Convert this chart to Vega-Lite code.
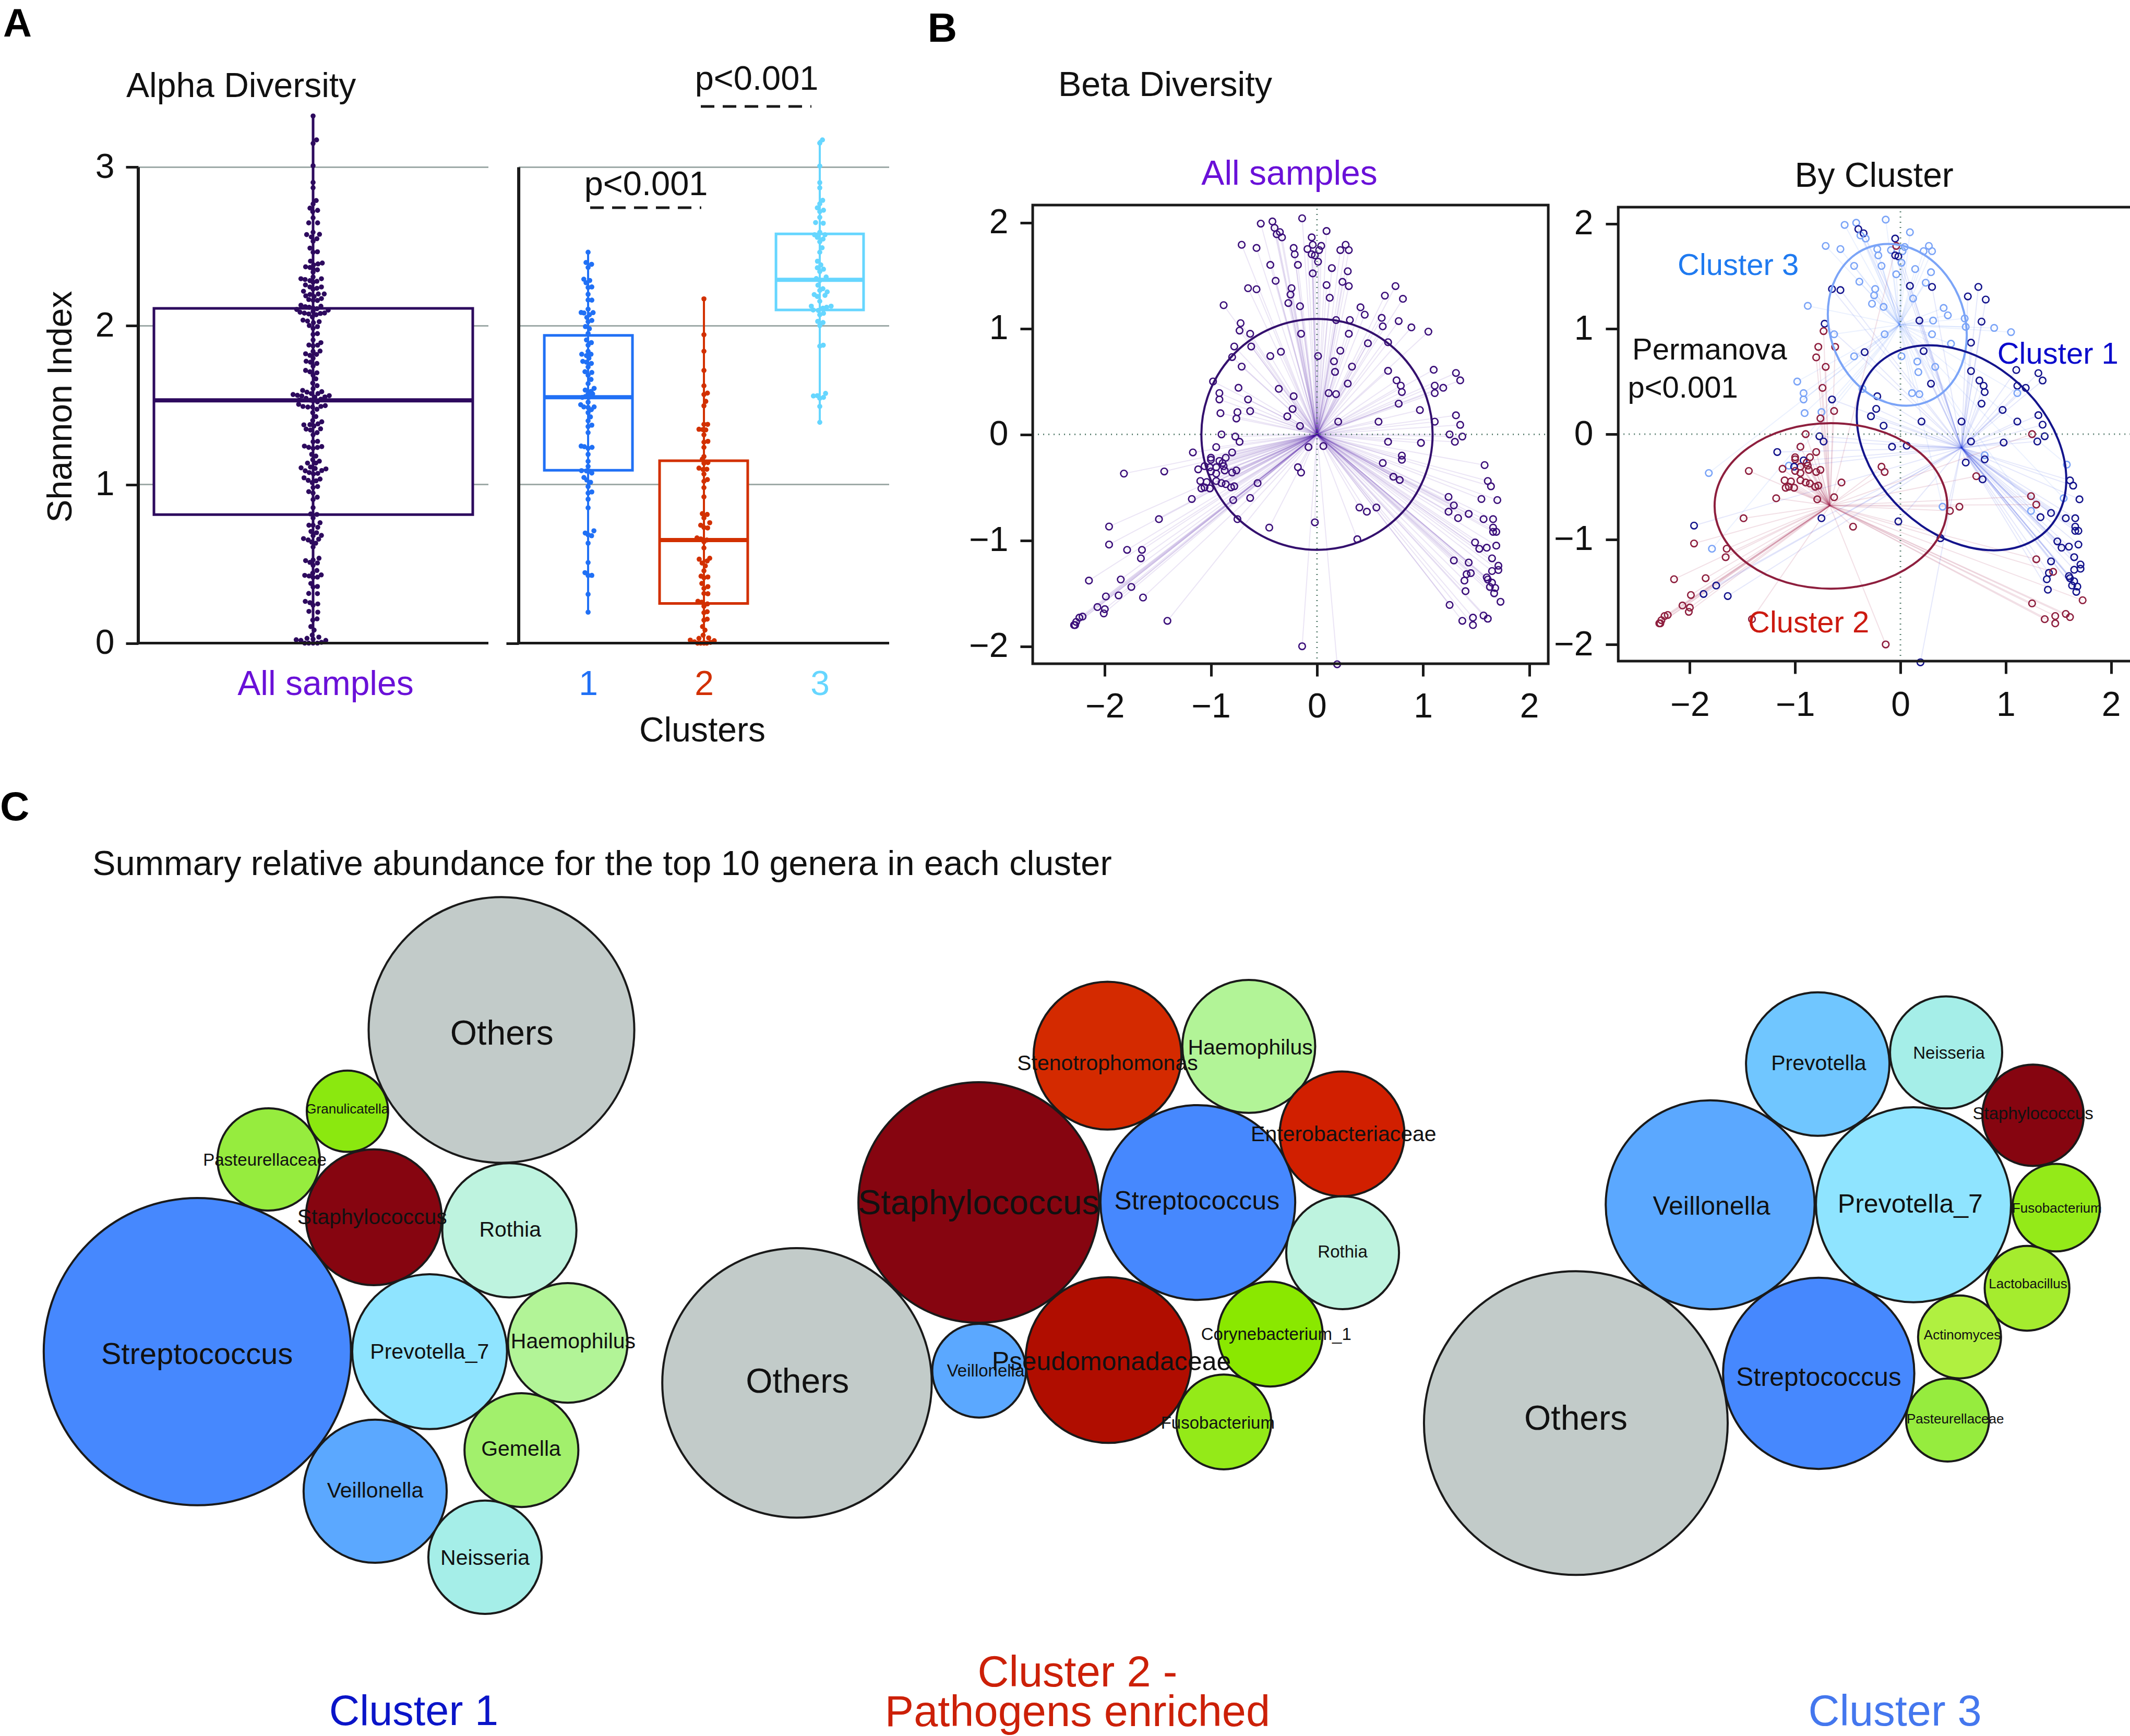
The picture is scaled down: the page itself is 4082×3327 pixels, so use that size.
{"$schema":"https://vega.github.io/schema/vega-lite/v6.json","width":4082,"height":3327,"padding":0,"autosize":"none","background":"white",
"config":{"view":{"stroke":null},"font":"Liberation Sans","text":{"font":"Liberation Sans"},"axis":{"grid":false,"domain":false,"title":null,"labelFont":"Liberation Sans","labelFontSize":66,"labelColor":"#111111","tickColor":"#1a1a1a","tickWidth":5,"tickSize":24,"labelOverlap":false,"labelFlush":false,"format":"d"}},
"datasets":{
"allSwarm":[{"x":0,"y":3.323},{"x":20,"y":3.172},{"x":0,"y":3.15},{"x":0,"y":3.009},{"x":0,"y":2.904},{"x":0,"y":2.87},{"x":18,"y":2.79},{"x":0,"y":2.768},{"x":-18,"y":2.742},{"x":26,"y":2.728},{"x":-2,"y":2.72},{"x":0,"y":2.681},{"x":-25,"y":2.649},{"x":26,"y":2.649},{"x":0,"y":2.59},{"x":-37,"y":2.575},{"x":37,"y":2.577},{"x":-10,"y":2.56},{"x":22,"y":2.549},{"x":0,"y":2.533},{"x":-18,"y":2.49},{"x":25,"y":2.467},{"x":0,"y":2.464},{"x":-15,"y":2.408},{"x":53,"y":2.396},{"x":28,"y":2.39},{"x":3,"y":2.384},{"x":-43,"y":2.372},{"x":-18,"y":2.368},{"x":0,"y":2.36},{"x":25,"y":2.353},{"x":0,"y":2.338},{"x":0,"y":2.308},{"x":-70,"y":2.297},{"x":-46,"y":2.292},{"x":48,"y":2.297},{"x":-18,"y":2.285},{"x":22,"y":2.281},{"x":0,"y":2.275},{"x":-44,"y":2.258},{"x":48,"y":2.245},{"x":-18,"y":2.245},{"x":22,"y":2.237},{"x":0,"y":2.231},{"x":-55,"y":2.218},{"x":64,"y":2.201},{"x":30,"y":2.201},{"x":-18,"y":2.198},{"x":-42,"y":2.189},{"x":6,"y":2.185},{"x":48,"y":2.172},{"x":-25,"y":2.166},{"x":0,"y":2.161},{"x":25,"y":2.16},{"x":-70,"y":2.13},{"x":-45,"y":2.121},{"x":45,"y":2.124},{"x":-22,"y":2.117},{"x":-94,"y":2.103},{"x":0,"y":2.113},{"x":22,"y":2.108},{"x":87,"y":2.099},{"x":0,"y":2.091},{"x":-75,"y":2.086},{"x":-50,"y":2.08},{"x":-25,"y":2.075},{"x":42,"y":2.078},{"x":66,"y":2.081},{"x":18,"y":2.07},{"x":-4,"y":2.056},{"x":-58,"y":2.036},{"x":-32,"y":2.03},{"x":35,"y":2.026},{"x":2,"y":2.02},{"x":-22,"y":2.002},{"x":25,"y":1.995},{"x":0,"y":1.984},{"x":25,"y":1.951},{"x":0,"y":1.946},{"x":0,"y":1.911},{"x":45,"y":1.894},{"x":-24,"y":1.879},{"x":26,"y":1.878},{"x":0,"y":1.874},{"x":40,"y":1.841},{"x":0,"y":1.839},{"x":-43,"y":1.824},{"x":-18,"y":1.814},{"x":20,"y":1.82},{"x":0,"y":1.796},{"x":-40,"y":1.777},{"x":-15,"y":1.771},{"x":22,"y":1.763},{"x":0,"y":1.746},{"x":-43,"y":1.719},{"x":-18,"y":1.71},{"x":22,"y":1.704},{"x":0,"y":1.689},{"x":16,"y":1.666},{"x":-2,"y":1.639},{"x":23,"y":1.623},{"x":0,"y":1.604},{"x":-60,"y":1.593},{"x":-35,"y":1.582},{"x":50,"y":1.585},{"x":28,"y":1.573},{"x":-10,"y":1.573},{"x":-115,"y":1.567},{"x":-90,"y":1.562},{"x":-65,"y":1.558},{"x":93,"y":1.56},{"x":68,"y":1.552},{"x":-40,"y":1.543},{"x":10,"y":1.551},{"x":-80,"y":1.532},{"x":-15,"y":1.532},{"x":45,"y":1.538},{"x":0,"y":1.527},{"x":25,"y":1.521},{"x":-83,"y":1.505},{"x":-58,"y":1.492},{"x":-30,"y":1.488},{"x":-3,"y":1.488},{"x":70,"y":1.497},{"x":45,"y":1.492},{"x":22,"y":1.474},{"x":-2,"y":1.453},{"x":16,"y":1.428},{"x":-2,"y":1.403},{"x":50,"y":1.395},{"x":28,"y":1.382},{"x":-18,"y":1.377},{"x":-53,"y":1.376},{"x":5,"y":1.368},{"x":43,"y":1.351},{"x":-40,"y":1.349},{"x":-15,"y":1.343},{"x":23,"y":1.327},{"x":0,"y":1.313},{"x":0,"y":1.269},{"x":26,"y":1.272},{"x":-50,"y":1.242},{"x":-25,"y":1.234},{"x":0,"y":1.228},{"x":25,"y":1.233},{"x":50,"y":1.239},{"x":-8,"y":1.19},{"x":16,"y":1.179},{"x":-2,"y":1.156},{"x":36,"y":1.147},{"x":-32,"y":1.135},{"x":16,"y":1.135},{"x":-15,"y":1.11},{"x":12,"y":1.101},{"x":-69,"y":1.105},{"x":74,"y":1.098},{"x":50,"y":1.088},{"x":-45,"y":1.086},{"x":-22,"y":1.075},{"x":2,"y":1.066},{"x":27,"y":1.07},{"x":-52,"y":1.042},{"x":40,"y":1.034},{"x":-28,"y":1.026},{"x":17,"y":1.023},{"x":-5,"y":1.012},{"x":26,"y":0.987},{"x":0,"y":0.981},{"x":-25,"y":0.955},{"x":0,"y":0.946},{"x":24,"y":0.92},{"x":0,"y":0.905},{"x":0,"y":0.854},{"x":-14,"y":0.814},{"x":22,"y":0.811},{"x":0,"y":0.789},{"x":40,"y":0.759},{"x":-24,"y":0.743},{"x":27,"y":0.73},{"x":0,"y":0.743},{"x":-12,"y":0.704},{"x":20,"y":0.696},{"x":48,"y":0.679},{"x":0,"y":0.677},{"x":-55,"y":0.659},{"x":32,"y":0.655},{"x":-28,"y":0.65},{"x":15,"y":0.63},{"x":-8,"y":0.637},{"x":0,"y":0.606},{"x":34,"y":0.535},{"x":0,"y":0.524},{"x":-43,"y":0.52},{"x":-18,"y":0.509},{"x":25,"y":0.505},{"x":0,"y":0.491},{"x":22,"y":0.458},{"x":-2,"y":0.441},{"x":47,"y":0.43},{"x":-48,"y":0.427},{"x":-23,"y":0.423},{"x":0,"y":0.414},{"x":25,"y":0.416},{"x":-13,"y":0.376},{"x":0,"y":0.354},{"x":25,"y":0.357},{"x":-25,"y":0.313},{"x":25,"y":0.312},{"x":-45,"y":0.263},{"x":-18,"y":0.255},{"x":27,"y":0.247},{"x":0,"y":0.239},{"x":-24,"y":0.2},{"x":27,"y":0.195},{"x":23,"y":0.153},{"x":-2,"y":0.145},{"x":-13,"y":0.104},{"x":6,"y":0.082},{"x":-5,"y":0.051},{"x":33,"y":0.038},{"x":-35,"y":0.03},{"x":-97,"y":0.021},{"x":73,"y":0.017},{"x":-70,"y":0.017},{"x":0,"y":0.025},{"x":48,"y":0.005},{"x":-25,"y":0},{"x":-48,"y":0},{"x":25,"y":0},{"x":0,"y":0}],
"clusterSwarm":[{"x":1,"y":2.464,"c":1},{"x":0.982,"y":2.399,"c":1},{"x":1.03,"y":2.388,"c":1},{"x":1,"y":2.368,"c":1},{"x":0.963,"y":2.294,"c":1},{"x":1.014,"y":2.286,"c":1},{"x":0.982,"y":2.272,"c":1},{"x":1.032,"y":2.245,"c":1},{"x":1,"y":2.242,"c":1},{"x":1,"y":2.199,"c":1},{"x":1,"y":2.163,"c":1},{"x":1.032,"y":2.162,"c":1},{"x":1,"y":2.105,"c":1},{"x":0.94,"y":2.084,"c":1},{"x":0.964,"y":2.081,"c":1},{"x":1.043,"y":2.083,"c":1},{"x":1.011,"y":2.07,"c":1},{"x":0.989,"y":2.053,"c":1},{"x":1.032,"y":2.034,"c":1},{"x":1,"y":2.026,"c":1},{"x":0.977,"y":1.995,"c":1},{"x":1.011,"y":1.982,"c":1},{"x":1,"y":1.952,"c":1},{"x":0.986,"y":1.911,"c":1},{"x":1.028,"y":1.894,"c":1},{"x":1,"y":1.878,"c":1},{"x":1,"y":1.839,"c":1},{"x":0.945,"y":1.821,"c":1},{"x":1.025,"y":1.821,"c":1},{"x":0.986,"y":1.812,"c":1},{"x":1.007,"y":1.796,"c":1},{"x":0.954,"y":1.776,"c":1},{"x":0.986,"y":1.771,"c":1},{"x":1.028,"y":1.763,"c":1},{"x":1,"y":1.741,"c":1},{"x":0.973,"y":1.711,"c":1},{"x":1.032,"y":1.706,"c":1},{"x":1,"y":1.689,"c":1},{"x":1.025,"y":1.662,"c":1},{"x":1,"y":1.636,"c":1},{"x":1.052,"y":1.606,"c":1},{"x":0.975,"y":1.595,"c":1},{"x":1.025,"y":1.587,"c":1},{"x":1,"y":1.571,"c":1},{"x":1.039,"y":1.571,"c":1},{"x":0.95,"y":1.549,"c":1},{"x":1.007,"y":1.549,"c":1},{"x":0.975,"y":1.554,"c":1},{"x":1.028,"y":1.554,"c":1},{"x":1,"y":1.519,"c":1},{"x":0.936,"y":1.503,"c":1},{"x":0.963,"y":1.489,"c":1},{"x":1.052,"y":1.489,"c":1},{"x":1,"y":1.486,"c":1},{"x":1.028,"y":1.472,"c":1},{"x":1,"y":1.453,"c":1},{"x":1.02,"y":1.426,"c":1},{"x":1,"y":1.401,"c":1},{"x":1.032,"y":1.374,"c":1},{"x":1,"y":1.365,"c":1},{"x":1,"y":1.327,"c":1},{"x":0.94,"y":1.242,"c":1},{"x":0.968,"y":1.238,"c":1},{"x":1.034,"y":1.234,"c":1},{"x":1,"y":1.228,"c":1},{"x":1,"y":1.19,"c":1},{"x":1,"y":1.146,"c":1},{"x":1,"y":1.114,"c":1},{"x":0.943,"y":1.087,"c":1},{"x":0.986,"y":1.085,"c":1},{"x":1.016,"y":1.083,"c":1},{"x":1.032,"y":1.072,"c":1},{"x":0.964,"y":1.044,"c":1},{"x":0.989,"y":1.028,"c":1},{"x":1.021,"y":1.014,"c":1},{"x":1,"y":0.987,"c":1},{"x":1.032,"y":0.953,"c":1},{"x":1,"y":0.946,"c":1},{"x":1,"y":0.907,"c":1},{"x":1,"y":0.853,"c":1},{"x":1.05,"y":0.708,"c":1},{"x":0.975,"y":0.694,"c":1},{"x":1.03,"y":0.677,"c":1},{"x":1,"y":0.683,"c":1},{"x":1,"y":0.63,"c":1},{"x":1,"y":0.508,"c":1},{"x":0.973,"y":0.444,"c":1},{"x":1.032,"y":0.427,"c":1},{"x":1,"y":0.427,"c":1},{"x":1,"y":0.308,"c":1},{"x":1,"y":0.195,"c":1},
{"x":2,"y":2.17,"c":2},{"x":2,"y":1.944,"c":2},{"x":2,"y":1.84,"c":2},{"x":2,"y":1.719,"c":2},{"x":2,"y":1.622,"c":2},{"x":2.03,"y":1.576,"c":2},{"x":2,"y":1.567,"c":2},{"x":2.016,"y":1.524,"c":2},{"x":2,"y":1.496,"c":2},{"x":2.032,"y":1.379,"c":2},{"x":2,"y":1.379,"c":2},{"x":1.957,"y":1.348,"c":2},{"x":2.016,"y":1.344,"c":2},{"x":1.99,"y":1.346,"c":2},{"x":2,"y":1.313,"c":2},{"x":2.034,"y":1.272,"c":2},{"x":2,"y":1.267,"c":2},{"x":2,"y":1.234,"c":2},{"x":2,"y":1.176,"c":2},{"x":1.986,"y":1.16,"c":2},{"x":2.034,"y":1.138,"c":2},{"x":2,"y":1.134,"c":2},{"x":1.957,"y":1.103,"c":2},{"x":2.025,"y":1.096,"c":2},{"x":1.993,"y":1.094,"c":2},{"x":2,"y":1.066,"c":2},{"x":2.03,"y":1.031,"c":2},{"x":2,"y":1.02,"c":2},{"x":2,"y":0.98,"c":2},{"x":2,"y":0.922,"c":2},{"x":1.986,"y":0.816,"c":2},{"x":2.028,"y":0.811,"c":2},{"x":2,"y":0.789,"c":2},{"x":2.05,"y":0.759,"c":2},{"x":1.972,"y":0.743,"c":2},{"x":2.032,"y":0.726,"c":2},{"x":2,"y":0.729,"c":2},{"x":1.94,"y":0.663,"c":2},{"x":1.972,"y":0.657,"c":2},{"x":2.025,"y":0.65,"c":2},{"x":2,"y":0.639,"c":2},{"x":2,"y":0.6,"c":2},{"x":2.05,"y":0.535,"c":2},{"x":1.959,"y":0.529,"c":2},{"x":2.028,"y":0.518,"c":2},{"x":1.984,"y":0.505,"c":2},{"x":2.012,"y":0.487,"c":2},{"x":2,"y":0.456,"c":2},{"x":1.975,"y":0.422,"c":2},{"x":2.034,"y":0.417,"c":2},{"x":2,"y":0.412,"c":2},{"x":1.982,"y":0.376,"c":2},{"x":2.034,"y":0.356,"c":2},{"x":2,"y":0.345,"c":2},{"x":2,"y":0.313,"c":2},{"x":2.034,"y":0.311,"c":2},{"x":1.948,"y":0.264,"c":2},{"x":1.98,"y":0.258,"c":2},{"x":2.03,"y":0.247,"c":2},{"x":2,"y":0.233,"c":2},{"x":2.028,"y":0.198,"c":2},{"x":2,"y":0.192,"c":2},{"x":2.028,"y":0.151,"c":2},{"x":2,"y":0.145,"c":2},{"x":1.988,"y":0.104,"c":2},{"x":2.009,"y":0.082,"c":2},{"x":1.993,"y":0.05,"c":2},{"x":2.041,"y":0.033,"c":2},{"x":1.957,"y":0.03,"c":2},{"x":1.882,"y":0.019,"c":2},{"x":2.089,"y":0.015,"c":2},{"x":1.918,"y":0.008,"c":2},{"x":2.057,"y":0.005,"c":2},{"x":1.945,"y":0,"c":2},{"x":2,"y":0.003,"c":2},{"x":1.972,"y":0,"c":2},{"x":2.025,"y":0,"c":2},{"x":2,"y":0,"c":2},
{"x":3.023,"y":3.172,"c":3},{"x":3,"y":3.152,"c":3},{"x":3,"y":3.007,"c":3},{"x":3,"y":2.903,"c":3},{"x":3,"y":2.87,"c":3},{"x":3.025,"y":2.791,"c":3},{"x":3,"y":2.769,"c":3},{"x":2.979,"y":2.744,"c":3},{"x":3.032,"y":2.729,"c":3},{"x":3,"y":2.72,"c":3},{"x":3,"y":2.684,"c":3},{"x":2.964,"y":2.651,"c":3},{"x":3.03,"y":2.647,"c":3},{"x":3,"y":2.59,"c":3},{"x":2.955,"y":2.574,"c":3},{"x":3.045,"y":2.574,"c":3},{"x":2.979,"y":2.558,"c":3},{"x":3.028,"y":2.547,"c":3},{"x":3,"y":2.53,"c":3},{"x":3.02,"y":2.492,"c":3},{"x":3,"y":2.464,"c":3},{"x":2.98,"y":2.407,"c":3},{"x":3.009,"y":2.384,"c":3},{"x":2.979,"y":2.366,"c":3},{"x":3.032,"y":2.357,"c":3},{"x":3,"y":2.342,"c":3},{"x":2.97,"y":2.298,"c":3},{"x":3.055,"y":2.308,"c":3},{"x":3,"y":2.286,"c":3},{"x":2.984,"y":2.256,"c":3},{"x":3.027,"y":2.234,"c":3},{"x":3,"y":2.223,"c":3},{"x":3.064,"y":2.214,"c":3},{"x":2.952,"y":2.197,"c":3},{"x":3.045,"y":2.192,"c":3},{"x":2.979,"y":2.185,"c":3},{"x":3,"y":2.155,"c":3},{"x":2.927,"y":2.124,"c":3},{"x":3.098,"y":2.124,"c":3},{"x":3.059,"y":2.117,"c":3},{"x":3.027,"y":2.111,"c":3},{"x":2.943,"y":2.1,"c":3},{"x":2.988,"y":2.097,"c":3},{"x":3.032,"y":2.079,"c":3},{"x":3,"y":2.07,"c":3},{"x":2.982,"y":2.028,"c":3},{"x":3.028,"y":2.021,"c":3},{"x":3,"y":2.002,"c":3},{"x":3.03,"y":1.878,"c":3},{"x":3,"y":1.872,"c":3},{"x":3.05,"y":1.574,"c":3},{"x":2.945,"y":1.558,"c":3},{"x":2.979,"y":1.56,"c":3},{"x":3.032,"y":1.549,"c":3},{"x":3,"y":1.543,"c":3},{"x":3,"y":1.492,"c":3},{"x":3,"y":1.392,"c":3}],
"beta":[{"x":-0.14,"y":2.04,"c":3},{"x":-0.42,"y":2.01,"c":3},{"x":-0.53,"y":1.99,"c":3},{"x":-0.4,"y":1.95,"c":1},{"x":-0.38,"y":1.89,"c":3},{"x":-0.35,"y":1.91,"c":1},{"x":-0.33,"y":1.86,"c":3},{"x":0.09,"y":1.92,"c":3},{"x":-0.05,"y":1.86,"c":1},{"x":-0.71,"y":1.79,"c":3},{"x":-0.57,"y":1.76,"c":3},{"x":-0.22,"y":1.76,"c":3},{"x":-0.21,"y":1.7,"c":3},{"x":-0.09,"y":1.75,"c":3},{"x":-0.04,"y":1.79,"c":2},{"x":0.04,"y":1.78,"c":3},{"x":0.02,"y":1.74,"c":3},{"x":-0.05,"y":1.7,"c":1},{"x":-0.02,"y":1.69,"c":1},{"x":0.01,"y":1.63,"c":3},{"x":0.22,"y":1.74,"c":3},{"x":0.27,"y":1.79,"c":3},{"x":0.3,"y":1.74,"c":3},{"x":-0.44,"y":1.6,"c":3},{"x":-0.18,"y":1.6,"c":3},{"x":0.14,"y":1.57,"c":3},{"x":0.29,"y":1.54,"c":3},{"x":-0.04,"y":1.52,"c":3},{"x":-0.39,"y":1.45,"c":3},{"x":0.24,"y":1.44,"c":3},{"x":0.3,"y":1.4,"c":1},{"x":0.09,"y":1.41,"c":1},{"x":-0.65,"y":1.38,"c":1},{"x":-0.57,"y":1.37,"c":1},{"x":-0.24,"y":1.38,"c":3},{"x":-0.25,"y":1.32,"c":3},{"x":0.74,"y":1.4,"c":1},{"x":0.64,"y":1.31,"c":1},{"x":0.81,"y":1.28,"c":1},{"x":0.12,"y":1.29,"c":3},{"x":-0.27,"y":1.24,"c":3},{"x":-0.88,"y":1.22,"c":3},{"x":-0.16,"y":1.21,"c":3},{"x":0.41,"y":1.2,"c":3},{"x":0.45,"y":1.13,"c":3},{"x":0.61,"y":1.1,"c":3},{"x":0.62,"y":1.02,"c":3},{"x":0.77,"y":1.07,"c":1},{"x":0.18,"y":1.08,"c":1},{"x":0.31,"y":1.08,"c":3},{"x":0.89,"y":1.01,"c":3},{"x":1.05,"y":0.97,"c":3},{"x":-0.72,"y":1.05,"c":1},{"x":-0.73,"y":0.98,"c":2},{"x":-0.63,"y":0.95,"c":3},{"x":-0.15,"y":0.95,"c":3},{"x":0.3,"y":0.95,"c":3},{"x":0.67,"y":0.87,"c":1},{"x":0.48,"y":0.86,"c":3},{"x":-0.78,"y":0.83,"c":2},{"x":-0.62,"y":0.83,"c":2},{"x":-0.34,"y":0.78,"c":1},{"x":-0.44,"y":0.74,"c":3},{"x":0.01,"y":0.74,"c":3},{"x":0.22,"y":0.79,"c":1},{"x":-0.8,"y":0.73,"c":2},{"x":0.16,"y":0.69,"c":3},{"x":-0.71,"y":0.64,"c":2},{"x":0.33,"y":0.64,"c":3},{"x":0.17,"y":0.59,"c":3},{"x":0.67,"y":0.6,"c":1},{"x":1.1,"y":0.61,"c":1},{"x":1.31,"y":0.58,"c":1},{"x":1.35,"y":0.51,"c":1},{"x":-0.98,"y":0.5,"c":3},{"x":0.75,"y":0.51,"c":1},{"x":0.29,"y":0.48,"c":1},{"x":0.79,"y":0.46,"c":1},{"x":0.8,"y":0.4,"c":1},{"x":1.11,"y":0.46,"c":1},{"x":1.19,"y":0.44,"c":1},{"x":1.11,"y":0.39,"c":3},{"x":-0.74,"y":0.44,"c":2},{"x":-0.36,"y":0.43,"c":3},{"x":-0.92,"y":0.39,"c":3},{"x":-0.92,"y":0.33,"c":3},{"x":0.11,"y":0.39,"c":3},{"x":0.18,"y":0.38,"c":3},{"x":-0.22,"y":0.36,"c":1},{"x":-0.65,"y":0.33,"c":1},{"x":0.77,"y":0.29,"c":1},{"x":-0.23,"y":0.24,"c":1},{"x":-0.75,"y":0.21,"c":3},{"x":-0.63,"y":0.22,"c":2},{"x":-0.91,"y":0.2,"c":3},{"x":0.97,"y":0.23,"c":1},{"x":-0.76,"y":0.15,"c":2},{"x":-0.28,"y":0.17,"c":1},{"x":1.31,"y":0.18,"c":1},{"x":0.2,"y":0.12,"c":1},{"x":0.58,"y":0.12,"c":1},{"x":1.11,"y":0.12,"c":1},{"x":1.35,"y":0.09,"c":1},{"x":-0.16,"y":0.08,"c":1},{"x":-0.9,"y":0,"c":2},{"x":1.25,"y":0,"c":2},{"x":1.37,"y":-0.02,"c":1},{"x":-0.77,"y":-0.02,"c":1},{"x":-0.73,"y":-0.07,"c":1},{"x":0.67,"y":-0.07,"c":1},{"x":0.98,"y":-0.08,"c":1},{"x":1.3,"y":-0.07,"c":1},{"x":-0.08,"y":-0.12,"c":1},{"x":0.06,"y":-0.11,"c":1},{"x":-0.95,"y":-0.12,"c":2},{"x":-1.17,"y":-0.17,"c":1},{"x":-0.8,"y":-0.17,"c":2},{"x":-0.86,"y":-0.22,"c":2},{"x":-1,"y":-0.22,"c":2},{"x":-1,"y":-0.24,"c":2},{"x":-0.92,"y":-0.25,"c":1},{"x":-0.89,"y":-0.27,"c":2},{"x":-1.06,"y":-0.3,"c":3},{"x":-0.95,"y":-0.31,"c":2},{"x":-0.88,"y":-0.3,"c":2},{"x":-1.01,"y":-0.31,"c":1},{"x":-1.12,"y":-0.33,"c":2},{"x":-1,"y":-0.35,"c":2},{"x":-0.87,"y":-0.34,"c":2},{"x":-0.8,"y":-0.36,"c":2},{"x":-0.76,"y":-0.34,"c":2},{"x":-0.95,"y":-0.37,"c":2},{"x":-1.44,"y":-0.35,"c":2},{"x":-1.82,"y":-0.37,"c":3},{"x":0.8,"y":-0.2,"c":3},{"x":0.8,"y":-0.24,"c":1},{"x":0.62,"y":-0.27,"c":1},{"x":1.58,"y":-0.29,"c":3},{"x":-0.18,"y":-0.31,"c":2},{"x":-0.15,"y":-0.36,"c":2},{"x":0.72,"y":-0.4,"c":2},{"x":0.78,"y":-0.43,"c":1},{"x":1.61,"y":-0.44,"c":1},{"x":1.64,"y":-0.49,"c":1},{"x":-1.1,"y":-0.44,"c":2},{"x":-1.04,"y":-0.45,"c":2},{"x":-0.95,"y":-0.44,"c":2},{"x":-0.9,"y":-0.46,"c":2},{"x":-0.86,"y":-0.47,"c":2},{"x":-1.09,"y":-0.51,"c":2},{"x":-1.06,"y":-0.5,"c":2},{"x":-1.01,"y":-0.51,"c":2},{"x":-0.81,"y":-0.5,"c":2},{"x":-0.78,"y":-0.49,"c":2},{"x":-0.56,"y":-0.46,"c":2},{"x":-1.18,"y":-0.61,"c":2},{"x":-0.79,"y":-0.62,"c":2},{"x":-0.63,"y":-0.6,"c":2},{"x":1.24,"y":-0.59,"c":2},{"x":1.55,"y":-0.61,"c":3},{"x":1.7,"y":-0.62,"c":1},{"x":1.29,"y":-0.67,"c":2},{"x":1.24,"y":-0.73,"c":3},{"x":0.4,"y":-0.69,"c":3},{"x":0.47,"y":-0.73,"c":2},{"x":0.56,"y":-0.69,"c":2},{"x":1.43,"y":-0.75,"c":1},{"x":-0.75,"y":-0.8,"c":1},{"x":1.33,"y":-0.79,"c":1},{"x":1.57,"y":-0.8,"c":1},{"x":1.66,"y":-0.8,"c":1},{"x":-0.02,"y":-0.83,"c":1},{"x":-1.49,"y":-0.8,"c":2},{"x":-1.96,"y":-0.87,"c":1},{"x":-0.45,"y":-0.88,"c":2},{"x":1.66,"y":-0.88,"c":1},{"x":1.66,"y":-0.92,"c":1},{"x":1.69,"y":-0.92,"c":1},{"x":-1.96,"y":-1.04,"c":2},{"x":0.38,"y":-0.99,"c":1},{"x":1.49,"y":-1.02,"c":1},{"x":1.53,"y":-1.08,"c":1},{"x":1.6,"y":-1.07,"c":1},{"x":1.69,"y":-1.05,"c":1},{"x":-1.79,"y":-1.09,"c":3},{"x":-1.65,"y":-1.09,"c":2},{"x":-1.66,"y":-1.17,"c":2},{"x":1.65,"y":-1.17,"c":1},{"x":1.29,"y":-1.19,"c":2},{"x":1.43,"y":-1.21,"c":1},{"x":1.71,"y":-1.24,"c":1},{"x":1.71,"y":-1.28,"c":1},{"x":1.65,"y":-1.29,"c":1},{"x":1.41,"y":-1.32,"c":1},{"x":1.45,"y":-1.31,"c":2},{"x":-2.15,"y":-1.38,"c":2},{"x":-1.85,"y":-1.37,"c":2},{"x":1.39,"y":-1.38,"c":1},{"x":1.6,"y":-1.35,"c":1},{"x":1.61,"y":-1.37,"c":1},{"x":1.65,"y":-1.4,"c":1},{"x":1.63,"y":-1.44,"c":1},{"x":1.68,"y":-1.45,"c":1},{"x":1.4,"y":-1.48,"c":1},{"x":-1.75,"y":-1.44,"c":1},{"x":-1.64,"y":-1.54,"c":1},{"x":1.67,"y":-1.5,"c":1},{"x":-1.99,"y":-1.53,"c":2},{"x":-1.87,"y":-1.52,"c":1},{"x":-2.07,"y":-1.63,"c":2},{"x":-2,"y":-1.65,"c":2},{"x":-2.01,"y":-1.69,"c":2},{"x":1.73,"y":-1.58,"c":2},{"x":1.25,"y":-1.61,"c":2},{"x":-1.41,"y":-1.76,"c":2},{"x":1.37,"y":-1.76,"c":2},{"x":1.47,"y":-1.73,"c":2},{"x":1.57,"y":-1.71,"c":2},{"x":1.61,"y":-1.74,"c":2},{"x":1.47,"y":-1.8,"c":2},{"x":-2.21,"y":-1.72,"c":2},{"x":-2.24,"y":-1.73,"c":2},{"x":-2.27,"y":-1.77,"c":2},{"x":-2.29,"y":-1.8,"c":2},{"x":-2.28,"y":-1.8,"c":2},{"x":-0.14,"y":-2,"c":2},{"x":0.19,"y":-2.17,"c":1}],
"ellipses":[{"c":3,"i":0,"x":0.63,"y":0.94},{"c":3,"i":1,"x":0.58,"y":1.24},{"c":3,"i":2,"x":0.437,"y":1.509},{"c":3,"i":3,"x":0.223,"y":1.707},{"c":3,"i":4,"x":-0.03,"y":1.803},{"c":3,"i":5,"x":-0.283,"y":1.783},{"c":3,"i":6,"x":-0.497,"y":1.651},{"c":3,"i":7,"x":-0.64,"y":1.424},{"c":3,"i":8,"x":-0.69,"y":1.14},{"c":3,"i":9,"x":-0.64,"y":0.84},{"c":3,"i":10,"x":-0.497,"y":0.571},{"c":3,"i":11,"x":-0.283,"y":0.373},{"c":3,"i":12,"x":-0.03,"y":0.277},{"c":3,"i":13,"x":0.223,"y":0.297},{"c":3,"i":14,"x":0.437,"y":0.429},{"c":3,"i":15,"x":0.58,"y":0.656},
{"c":1,"i":0,"x":1.575,"y":-0.432},{"c":1,"i":1,"x":1.499,"y":-0.054},{"c":1,"i":2,"x":1.284,"y":0.311},{"c":1,"i":3,"x":0.961,"y":0.61},{"c":1,"i":4,"x":0.58,"y":0.797},{"c":1,"i":5,"x":0.199,"y":0.842},{"c":1,"i":6,"x":-0.124,"y":0.739},{"c":1,"i":7,"x":-0.339,"y":0.504},{"c":1,"i":8,"x":-0.415,"y":0.172},{"c":1,"i":9,"x":-0.339,"y":-0.206},{"c":1,"i":10,"x":-0.124,"y":-0.571},{"c":1,"i":11,"x":0.199,"y":-0.87},{"c":1,"i":12,"x":0.58,"y":-1.057},{"c":1,"i":13,"x":0.961,"y":-1.102},{"c":1,"i":14,"x":1.284,"y":-0.999},{"c":1,"i":15,"x":1.499,"y":-0.764},
{"c":2,"i":0,"x":0.445,"y":-0.683},{"c":2,"i":1,"x":0.361,"y":-0.382},{"c":2,"i":2,"x":0.121,"y":-0.127},{"c":2,"i":3,"x":-0.237,"y":0.044},{"c":2,"i":4,"x":-0.66,"y":0.104},{"c":2,"i":5,"x":-1.083,"y":0.044},{"c":2,"i":6,"x":-1.441,"y":-0.127},{"c":2,"i":7,"x":-1.681,"y":-0.382},{"c":2,"i":8,"x":-1.765,"y":-0.683},{"c":2,"i":9,"x":-1.681,"y":-0.984},{"c":2,"i":10,"x":-1.441,"y":-1.239},{"c":2,"i":11,"x":-1.083,"y":-1.41},{"c":2,"i":12,"x":-0.66,"y":-1.47},{"c":2,"i":13,"x":-0.237,"y":-1.41},{"c":2,"i":14,"x":0.121,"y":-1.239},{"c":2,"i":15,"x":0.361,"y":-0.984}],
"bubbles":[
{"cluster":1,"genus":"Others","x":369.2,"y":758.3,"abundance":23.91,"lx":369.5,"ly":761.5,"cls":"xxl"},{"cluster":1,"genus":"Granulicatella","x":255.8,"y":818.1,"abundance":2.24,"lx":255.8,"ly":816.9,"cls":"xs"},{"cluster":1,"genus":"Pasteurellaceae","x":197.8,"y":853.6,"abundance":3.55,"lx":195,"ly":854.4,"cls":"s"},{"cluster":1,"genus":"Staphylococcus","x":275.2,"y":896.2,"abundance":6.25,"lx":274,"ly":896.6,"cls":"m"},{"cluster":1,"genus":"Rothia","x":375,"y":905.8,"abundance":6.1,"lx":375.6,"ly":905.8,"cls":"m"},{"cluster":1,"genus":"Streptococcus","x":145.3,"y":995.1,"abundance":31.98,"lx":145,"ly":997.5,"cls":"xl"},{"cluster":1,"genus":"Prevotella_7","x":316.3,"y":995.1,"abundance":8.12,"lx":316.3,"ly":995.9,"cls":"m"},{"cluster":1,"genus":"Haemophilus","x":418,"y":988.7,"abundance":4.84,"lx":422,"ly":987.9,"cls":"m"},{"cluster":1,"genus":"Gemella","x":383.9,"y":1067.6,"abundance":4.39,"lx":383.6,"ly":1067.2,"cls":"m"},{"cluster":1,"genus":"Veillonella","x":276.2,"y":1097.9,"abundance":6.94,"lx":276.2,"ly":1097.9,"cls":"m"},{"cluster":1,"genus":"Neisseria","x":357.1,"y":1146.5,"abundance":4.35,"lx":357.1,"ly":1147.3,"cls":"m"},
{"cluster":2,"genus":"Others","x":586.8,"y":1018.1,"abundance":24.6,"lx":587.1,"ly":1017.7,"cls":"xxl"},{"cluster":2,"genus":"Staphylococcus","x":720.6,"y":885.3,"abundance":19.62,"lx":720.6,"ly":886.4,"cls":"xxl"},{"cluster":2,"genus":"Stenotrophomonas","x":815.4,"y":777.2,"abundance":7.4,"lx":815.4,"ly":783.2,"cls":"m"},{"cluster":2,"genus":"Haemophilus","x":919.4,"y":770.4,"abundance":5.98,"lx":920.5,"ly":771.9,"cls":"m"},{"cluster":2,"genus":"Streptococcus","x":881.9,"y":885.3,"abundance":12.85,"lx":881.2,"ly":884.9,"cls":"l"},{"cluster":2,"genus":"Enterobacteriaceae","x":988.1,"y":834.8,"abundance":5.27,"lx":989.2,"ly":835.5,"cls":"m"},{"cluster":2,"genus":"Rothia","x":988.5,"y":922.3,"abundance":4.31,"lx":988.5,"ly":922,"cls":"s"},{"cluster":2,"genus":"Corynebacterium_1","x":935.2,"y":982.2,"abundance":3.72,"lx":939.6,"ly":982.6,"cls":"s"},{"cluster":2,"genus":"Pseudomonadaceae","x":816.1,"y":1001.3,"abundance":9.3,"lx":818.3,"ly":1003.1,"cls":"l"},{"cluster":2,"genus":"Fusobacterium","x":901,"y":1046.9,"abundance":3.05,"lx":896.6,"ly":1048,"cls":"s"},{"cluster":2,"genus":"Veillonella","x":720.9,"y":1009.1,"abundance":2.98,"lx":725.7,"ly":1009.5,"cls":"s"},
{"cluster":3,"genus":"Others","x":1160.2,"y":1047.7,"abundance":31.25,"lx":1160.2,"ly":1045.1,"cls":"xxl"},{"cluster":3,"genus":"Veillonella","x":1259.1,"y":887,"abundance":14.78,"lx":1260.1,"ly":888.4,"cls":"l"},{"cluster":3,"genus":"Prevotella","x":1338.3,"y":783.4,"abundance":6.97,"lx":1339,"ly":783.4,"cls":"m"},{"cluster":3,"genus":"Neisseria","x":1432.8,"y":774.8,"abundance":4.26,"lx":1434.9,"ly":775.5,"cls":"s"},{"cluster":3,"genus":"Staphylococcus","x":1496.8,"y":821.1,"abundance":3.48,"lx":1496.8,"ly":820,"cls":"s"},{"cluster":3,"genus":"Prevotella_7","x":1408.8,"y":887,"abundance":12.89,"lx":1406.4,"ly":887,"cls":"l"},{"cluster":3,"genus":"Fusobacterium","x":1513.8,"y":889.1,"abundance":2.59,"lx":1514.4,"ly":889.9,"cls":"xs"},{"cluster":3,"genus":"Lactobacillus","x":1492.4,"y":948.5,"abundance":2.43,"lx":1493.1,"ly":945.6,"cls":"xs"},{"cluster":3,"genus":"Actinomyces","x":1442.7,"y":984.3,"abundance":2.33,"lx":1444.7,"ly":983.2,"cls":"xs"},{"cluster":3,"genus":"Streptococcus","x":1339,"y":1011.1,"abundance":12.39,"lx":1339,"ly":1014.7,"cls":"l"},{"cluster":3,"genus":"Pasteurellaceae","x":1433.9,"y":1045.5,"abundance":2.33,"lx":1439.6,"ly":1044.8,"cls":"xs"}]
},
"resolve":{"scale":{"x":"independent","y":"independent","color":"independent","stroke":"independent","size":"independent"},"axis":{"x":"independent","y":"independent"}},
"layer":[
{"encoding":{"x":{"field":"x","type":"quantitative","scale":{"domain":[-1800,10446],"nice":false,"zero":false},"axis":null},"y":{"field":"y","type":"quantitative","scale":{"domain":[-6.889,4.054],"nice":false,"zero":false},"axis":{"orient":"left","offset":-265,"values":[0,1,2,3],"labelPadding":22}}},
"layer":[
{"data":{"values":[{"x":-1005,"x2":1008,"y":1},{"x":-1005,"x2":1008,"y":2},{"x":-1005,"x2":1008,"y":3}]},"mark":{"type":"rule","stroke":"#9eaaa8","strokeWidth":3},"encoding":{"x2":{"field":"x2"}}},
{"data":{"values":[{"x":-915,"x2":918,"y":0.81,"y2":2.11}]},"mark":{"type":"rect","fill":"white","stroke":"#2d0a5e","strokeWidth":5},"encoding":{"x2":{"field":"x2"},"y2":{"field":"y2"}}},
{"data":{"values":[{"x":-915,"x2":918,"y":1.53}]},"mark":{"type":"rule","stroke":"#2d0a5e","strokeWidth":8},"encoding":{"x2":{"field":"x2"}}},
{"data":{"values":[{"x":0,"y":0,"y2":3.323}]},"mark":{"type":"rule","stroke":"#2d0a5e","strokeWidth":5},"encoding":{"y2":{"field":"y2"}}},
{"data":{"name":"allSwarm"},"mark":{"type":"circle","size":92,"opacity":1,"fill":"#2d0a5e"},"encoding":{}},
{"data":{"values":[{"x":-1005,"y":0,"y2":3}]},"mark":{"type":"rule","stroke":"#1a1a1a","strokeWidth":6},"encoding":{"y2":{"field":"y2"}}},
{"data":{"values":[{"x":-1005,"x2":1008,"y":0}]},"mark":{"type":"rule","stroke":"#1a1a1a","strokeWidth":5},"encoding":{"x2":{"field":"x2"}}},
{"data":{"values":[{"x":-1782,"y":3.9,"label":"A"}]},"mark":{"type":"text","align":"left","baseline":"middle","fontSize":76,"fontWeight":"bold","fill":"#000000"},"encoding":{"text":{"field":"label"}}},
{"data":{"values":[{"x":-1074,"y":3.508,"label":"Alpha Diversity"}]},"mark":{"type":"text","align":"left","baseline":"middle","fontSize":66,"fill":"#111111"},"encoding":{"text":{"field":"label"}}},
{"data":{"values":[{"x":72,"y":-0.262,"label":"All samples"}]},"mark":{"type":"text","align":"center","baseline":"middle","fontSize":66,"fill":"#6a10d8"},"encoding":{"text":{"field":"label"}}},
{"data":{"values":[{"x":-1449,"y":1.49,"label":"Shannon Index"}]},"mark":{"type":"text","align":"center","baseline":"middle","fontSize":66,"angle":270,"fill":"#111111"},"encoding":{"text":{"field":"label"}}}
]},
{"encoding":{"x":{"field":"x","type":"quantitative","scale":{"domain":[-4.077,14.311],"nice":false,"zero":false},"axis":{"orient":"bottom","offset":-2094.5,"values":[1,2,3],"ticks":false,"labelPadding":47,"labelColor":{"condition":[{"test":"datum.value===1","value":"#2070f5"},{"test":"datum.value===2","value":"#d23000"}],"value":"#66d6ff"}}},"y":{"field":"y","type":"quantitative","scale":{"domain":[-6.889,4.054],"nice":false,"zero":false},"axis":{"orient":"left","offset":-994,"values":[0],"labels":false}}},
"layer":[
{"data":{"values":[{"x":0.401,"x2":3.599,"y":1},{"x":0.401,"x2":3.599,"y":2},{"x":0.401,"x2":3.599,"y":3}]},"mark":{"type":"rule","stroke":"#9eaaa8","strokeWidth":3},"encoding":{"x2":{"field":"x2"}}},
{"data":{"values":[{"x":0.622,"x2":1.383,"y":1.09,"y2":1.94,"c":1},{"x":1.617,"x2":2.378,"y":0.25,"y2":1.15,"c":2},{"x":2.622,"x2":3.378,"y":2.1,"y2":2.58,"c":3}]},"mark":{"type":"rect","fill":"white","strokeWidth":5},"encoding":{"x2":{"field":"x2"},"y2":{"field":"y2"},"stroke":{"field":"c","type":"nominal","legend":null,"scale":{"domain":[1,2,3],"range":["#2070f5","#d23000","#66d6ff"]}}}},
{"data":{"values":[{"x":0.622,"x2":1.383,"y":1.55,"c":1},{"x":1.617,"x2":2.378,"y":0.65,"c":2},{"x":2.622,"x2":3.378,"y":2.29,"c":3}]},"mark":{"type":"rule","strokeWidth":8},"encoding":{"x2":{"field":"x2"},"color":{"field":"c","type":"nominal","legend":null,"scale":{"domain":[1,2,3],"range":["#2070f5","#d23000","#66d6ff"]}}}},
{"data":{"values":[{"x":1,"y":0.195,"y2":2.464,"c":1},{"x":2,"y":0,"y2":2.17,"c":2},{"x":3,"y":1.392,"y2":3.172,"c":3}]},"mark":{"type":"rule","strokeWidth":4},"encoding":{"y2":{"field":"y2"},"color":{"field":"c","type":"nominal","legend":null,"scale":{"domain":[1,2,3],"range":["#2070f5","#d23000","#66d6ff"]}}}},
{"data":{"name":"clusterSwarm"},"mark":{"type":"circle","size":95,"opacity":1},"encoding":{"color":{"field":"c","type":"nominal","legend":null,"scale":{"domain":[1,2,3],"range":["#2070f5","#d23000","#66d6ff"]}}}},
{"data":{"values":[{"x":0.401,"y":0,"y2":3}]},"mark":{"type":"rule","stroke":"#1a1a1a","strokeWidth":6},"encoding":{"y2":{"field":"y2"}}},
{"data":{"values":[{"x":0.401,"x2":3.599,"y":0}]},"mark":{"type":"rule","stroke":"#1a1a1a","strokeWidth":5},"encoding":{"x2":{"field":"x2"}}},
{"data":{"values":[{"x":1.018,"x2":1.977,"y":2.745},{"x":1.973,"x2":2.928,"y":3.383}]},"mark":{"type":"rule","stroke":"#1a1a1a","strokeWidth":5,"strokeDash":[26,16]},"encoding":{"x2":{"field":"x2"}}},
{"data":{"values":[{"x":1.5,"y":2.89,"label":"p<0.001"},{"x":2.455,"y":3.555,"label":"p<0.001"}]},"mark":{"type":"text","align":"center","baseline":"middle","fontSize":65,"fill":"#111111"},"encoding":{"text":{"field":"label"}}},
{"data":{"values":[{"x":1.986,"y":-0.553,"label":"Clusters"}]},"mark":{"type":"text","align":"center","baseline":"middle","fontSize":66,"fill":"#111111"},"encoding":{"text":{"field":"label"}}}
]},
{"data":{"name":"beta"},"encoding":{"x":{"field":"x","type":"quantitative","scale":{"domain":[-12.415,7.664],"nice":false,"zero":false},"axis":{"orient":"bottom","offset":-2055,"values":[-2,-1,0,1,2],"labelPadding":26}},"y":{"field":"y","type":"quantitative","scale":{"domain":[-12.288,4.101],"nice":false,"zero":false},"axis":{"orient":"left","offset":-1979,"values":[-2,-1,0,1,2],"labelPadding":23}}},
"layer":[
{"mark":{"type":"rule","stroke":"#4a14a0","strokeWidth":2,"opacity":0.11},"encoding":{"x2":{"datum":0},"y2":{"datum":0}}},
{"mark":{"type":"point","filled":false,"size":160,"strokeWidth":2.6,"stroke":"#3b0f7a","opacity":1},"encoding":{}},
{"data":{"values":[{"x":0,"y":-2.165,"y2":2.165}]},"mark":{"type":"rule","stroke":"#5a7f70","strokeWidth":3,"strokeDash":[2,8]},"encoding":{"y2":{"field":"y2"}}},
{"data":{"values":[{"x":-2.68,"x2":2.18,"y":0}]},"mark":{"type":"rule","stroke":"#5a7f70","strokeWidth":3,"strokeDash":[2,8]},"encoding":{"x2":{"field":"x2"}}},
{"data":{"values":[{"i":0,"x":1.09,"y":0},{"i":1,"x":1.007,"y":0.417},{"i":2,"x":0.771,"y":0.771},{"i":3,"x":0.417,"y":1.007},{"i":4,"x":0,"y":1.09},{"i":5,"x":-0.417,"y":1.007},{"i":6,"x":-0.771,"y":0.771},{"i":7,"x":-1.007,"y":0.417},{"i":8,"x":-1.09,"y":0},{"i":9,"x":-1.007,"y":-0.417},{"i":10,"x":-0.771,"y":-0.771},{"i":11,"x":-0.417,"y":-1.007},{"i":12,"x":0,"y":-1.09},{"i":13,"x":0.417,"y":-1.007},{"i":14,"x":0.771,"y":-0.771},{"i":15,"x":1.007,"y":-0.417}]},"mark":{"type":"line","interpolate":"cardinal-closed","stroke":"#34106e","strokeWidth":4},"encoding":{"order":{"field":"i","type":"quantitative"}}},
{"data":{"values":[{"x":-2.68,"x2":2.18,"y":-2.165,"y2":2.165}]},"mark":{"type":"rect","fill":null,"stroke":"#1a1a1a","strokeWidth":5},"encoding":{"x2":{"field":"x2"},"y2":{"field":"y2"}}},
{"data":{"values":[{"x":-3.67,"y":3.82,"label":"B"}]},"mark":{"type":"text","align":"left","baseline":"middle","fontSize":78,"fontWeight":"bold","fill":"#000000"},"encoding":{"text":{"field":"label"}}},
{"data":{"values":[{"x":-2.44,"y":3.294,"label":"Beta Diversity"}]},"mark":{"type":"text","align":"left","baseline":"middle","fontSize":66.5,"fill":"#111111"},"encoding":{"text":{"field":"label"}}},
{"data":{"values":[{"x":-0.26,"y":2.455,"label":"All samples"}]},"mark":{"type":"text","align":"center","baseline":"middle","fontSize":66,"fill":"#6a10d8"},"encoding":{"text":{"field":"label"}}}
]},
{"data":{"name":"beta"},"encoding":{"x":{"field":"x","type":"quantitative","scale":{"domain":[-18.048,2.18],"nice":false,"zero":false},"axis":{"orient":"bottom","offset":-2060,"values":[-2,-1,0,1,2],"labelPadding":28}},"y":{"field":"y","type":"quantitative","scale":{"domain":[-12.382,4.129],"nice":false,"zero":false},"axis":{"orient":"left","offset":-3101,"values":[-2,-1,0,1,2],"labelPadding":24}}},
"layer":[
{"transform":[{"filter":"datum.c==1"}],"mark":{"type":"rule","stroke":"#2a40e0","strokeWidth":2,"opacity":0.12},"encoding":{"x2":{"datum":0.58},"y2":{"datum":-0.13}}},
{"transform":[{"filter":"datum.c==2"}],"mark":{"type":"rule","stroke":"#a02050","strokeWidth":2,"opacity":0.14},"encoding":{"x2":{"datum":-0.67},"y2":{"datum":-0.68}}},
{"transform":[{"filter":"datum.c==3"}],"mark":{"type":"rule","stroke":"#5a8cf5","strokeWidth":2,"opacity":0.12},"encoding":{"x2":{"datum":-0.01},"y2":{"datum":1.04}}},
{"mark":{"type":"point","filled":false,"size":160,"strokeWidth":2.6,"opacity":1},"encoding":{"color":{"field":"c","type":"nominal","legend":null,"scale":{"domain":[1,2,3],"range":["#14148c","#8e1f3e","#7ba4f7"]}}}},
{"data":{"values":[{"x":0,"y":-2.159,"y2":2.159}]},"mark":{"type":"rule","stroke":"#5a7f70","strokeWidth":3,"strokeDash":[2,8]},"encoding":{"y2":{"field":"y2"}}},
{"data":{"values":[{"x":-2.68,"x2":2.18,"y":0}]},"mark":{"type":"rule","stroke":"#5a7f70","strokeWidth":3,"strokeDash":[2,8]},"encoding":{"x2":{"field":"x2"}}},
{"data":{"name":"ellipses"},"mark":{"type":"line","interpolate":"cardinal-closed","strokeWidth":4},"encoding":{"order":{"field":"i","type":"quantitative"},"color":{"field":"c","type":"nominal","legend":null,"scale":{"domain":[1,2,3],"range":["#0a0a96","#8a1030","#4d88f5"]}}}},
{"data":{"values":[{"x":-2.68,"x2":2.2,"y":-2.159,"y2":2.159}]},"mark":{"type":"rect","fill":null,"stroke":"#1a1a1a","strokeWidth":5},"encoding":{"x2":{"field":"x2"},"y2":{"field":"y2"}}},
{"data":{"values":[{"x":-0.25,"y":2.45,"label":"By Cluster"}]},"mark":{"type":"text","align":"center","baseline":"middle","fontSize":66,"fill":"#111111"},"encoding":{"text":{"field":"label"}}},
{"data":{"values":[{"x":-2.547,"y":0.794,"label":"Permanova"},{"x":-2.59,"y":0.432,"label":"p<0.001"}]},"mark":{"type":"text","align":"left","baseline":"middle","fontSize":58,"fill":"#111111"},"encoding":{"text":{"field":"label"}}},
{"data":{"values":[{"x":-2.116,"y":1.6,"label":"Cluster 3"}]},"mark":{"type":"text","align":"left","baseline":"middle","fontSize":58,"fill":"#1f7af0"},"encoding":{"text":{"field":"label"}}},
{"data":{"values":[{"x":0.92,"y":0.754,"label":"Cluster 1"}]},"mark":{"type":"text","align":"left","baseline":"middle","fontSize":58,"fill":"#0a0acc"},"encoding":{"text":{"field":"label"}}},
{"data":{"values":[{"x":-1.447,"y":-1.8,"label":"Cluster 2"}]},"mark":{"type":"text","align":"left","baseline":"middle","fontSize":58,"fill":"#cc1a10"},"encoding":{"text":{"field":"label"}}}
]},
{"data":{"name":"bubbles"},"encoding":{"x":{"field":"x","type":"quantitative","scale":{"domain":[0,1568.2],"nice":false,"zero":false},"axis":null},"y":{"field":"y","type":"quantitative","scale":{"domain":[1278.1,0],"nice":false,"zero":false},"axis":null}},
"layer":[
{"mark":{"type":"point","filled":true,"opacity":1,"stroke":"#1a1a1a","strokeWidth":4,"shape":"circle"},"encoding":{"size":{"field":"abundance","type":"quantitative","legend":null,"scale":{"domain":[0,40],"range":[0,433680]}},"color":{"field":"genus","type":"nominal","legend":null,"scale":{"domain":["Others","Streptococcus","Staphylococcus","Rothia","Prevotella_7","Haemophilus","Gemella","Veillonella","Neisseria","Pasteurellaceae","Granulicatella","Stenotrophomonas","Enterobacteriaceae","Pseudomonadaceae","Corynebacterium_1","Fusobacterium","Prevotella","Lactobacillus","Actinomyces"],"range":["#c2cbc9","#4688fe","#860510","#bef3df","#8fe4ff","#b2f497","#a2f06c","#5ba8ff","#a5eee8","#96ec3e","#8be80f","#d42a00","#d11f00","#b00d00","#8ae800","#94ea18","#70c6ff","#a5ec2e","#b0f040"]}}}},
{"transform":[{"filter":"datum.cls=='xs'"}],"mark":{"type":"text","align":"center","baseline":"middle","fill":"#111111","fontSize":26},"encoding":{"x":{"field":"lx","type":"quantitative"},"y":{"field":"ly","type":"quantitative"},"text":{"field":"genus"}}},
{"transform":[{"filter":"datum.cls=='s'"}],"mark":{"type":"text","align":"center","baseline":"middle","fill":"#111111","fontSize":33},"encoding":{"x":{"field":"lx","type":"quantitative"},"y":{"field":"ly","type":"quantitative"},"text":{"field":"genus"}}},
{"transform":[{"filter":"datum.cls=='m'"}],"mark":{"type":"text","align":"center","baseline":"middle","fill":"#111111","fontSize":41},"encoding":{"x":{"field":"lx","type":"quantitative"},"y":{"field":"ly","type":"quantitative"},"text":{"field":"genus"}}},
{"transform":[{"filter":"datum.cls=='l'"}],"mark":{"type":"text","align":"center","baseline":"middle","fill":"#111111","fontSize":50},"encoding":{"x":{"field":"lx","type":"quantitative"},"y":{"field":"ly","type":"quantitative"},"text":{"field":"genus"}}},
{"transform":[{"filter":"datum.cls=='xl'"}],"mark":{"type":"text","align":"center","baseline":"middle","fill":"#111111","fontSize":58},"encoding":{"x":{"field":"lx","type":"quantitative"},"y":{"field":"ly","type":"quantitative"},"text":{"field":"genus"}}},
{"transform":[{"filter":"datum.cls=='xxl'"}],"mark":{"type":"text","align":"center","baseline":"middle","fill":"#111111","fontSize":66},"encoding":{"x":{"field":"lx","type":"quantitative"},"y":{"field":"ly","type":"quantitative"},"text":{"field":"genus"}}},
{"data":{"values":[{"x":0,"y":595,"label":"C"}]},"mark":{"type":"text","align":"left","baseline":"middle","fontSize":78,"fontWeight":"bold","fill":"#000000"},"encoding":{"text":{"field":"label"}}},
{"data":{"values":[{"x":68,"y":636.5,"label":"Summary relative abundance for the top 10 genera in each cluster"}]},"mark":{"type":"text","align":"left","baseline":"middle","fontSize":66.7,"fill":"#111111"},"encoding":{"text":{"field":"label"}}},
{"data":{"values":[{"x":304.6,"y":1261,"label":"Cluster 1"}]},"mark":{"type":"text","align":"center","baseline":"middle","fontSize":81,"fill":"#0a14c8"},"encoding":{"text":{"field":"label"}}},
{"data":{"values":[{"x":793.3,"y":1232,"label":["Cluster 2 -","Pathogens enriched"]}]},"mark":{"type":"text","align":"center","baseline":"middle","fontSize":83,"lineHeight":76,"fill":"#cc2008"},"encoding":{"text":{"field":"label"}}},
{"data":{"values":[{"x":1395.2,"y":1261,"label":"Cluster 3"}]},"mark":{"type":"text","align":"center","baseline":"middle","fontSize":83,"fill":"#4477ee"},"encoding":{"text":{"field":"label"}}}
]}
]}
